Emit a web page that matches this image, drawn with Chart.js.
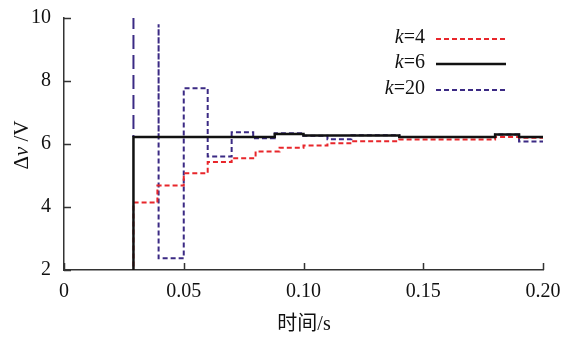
<!DOCTYPE html>
<html>
<head>
<meta charset="utf-8">
<script src="https://cdn.jsdelivr.net/npm/chart.js@4.4.1/dist/chart.umd.min.js"></script>
<style>
  html, body { margin: 0; padding: 0; background: #fff; }
  #contenedor { width: 563px; height: 338px; }
</style>
</head>
<body>
<div id="contenedor"><canvas id="grafico"></canvas></div>
<script>
// Instantes de cambio (s) y nivel de Δv (V) para cada k; la curva es escalonada
const tiempoK4 = [0, 0.029, 0.039, 0.05, 0.06, 0.07, 0.08, 0.09, 0.10, 0.11, 0.12, 0.14, 0.18, 0.19, 0.20];
const valorK4  = [0, 4.14, 4.68, 5.07, 5.43, 5.55, 5.76, 5.88, 5.95, 6.02, 6.09, 6.14, 6.22, 6.20, 6.20];

const tiempoK6 = [0, 0.029, 0.088, 0.10, 0.14, 0.18, 0.19, 0.20];
const valorK6  = [0, 6.22, 6.32, 6.27, 6.22, 6.30, 6.22, 6.22];

const tiempoK20 = [0.029, 0.029, 0.0395, 0.0395, 0.05, 0.06, 0.07, 0.079, 0.088, 0.099, 0.11, 0.12, 0.14, 0.18, 0.19, 0.20];
const valorK20  = [12, 6.22, 9.8, 2.37, 7.77, 5.60, 6.37, 6.18, 6.34, 6.26, 6.15, 6.28, 6.22, 6.30, 6.08, 6.08];

const ticksX = [0, 0.05, 0.10, 0.15, 0.20];
const ticksY = [2, 4, 6, 8, 10];

const leyenda = [
    { k: "4", color: "#e8262b", dash: [5, 3], ancho: 2 },
    { k: "6", color: "#111111", dash: [], ancho: 2.5 },
    { k: "20", color: "#3b2a84", dash: [5, 3], ancho: 2 }
];

const FUENTE = '"Liberation Serif", "Times New Roman", serif';
const TINTA = "#111";

function puntos(tiempos, valores) {
    return tiempos.map((t, i) => ({ x: t, y: valores[i] }));
}

// Marcas de los ejes hacia dentro del área de trazado
const marcasInternas = {
    id: "marcasInternas",
    afterDraw(chart) {
        const { ctx, chartArea, scales } = chart;
        ctx.save();
        ctx.strokeStyle = "#333";
        ctx.lineWidth = 1.5;
        ctx.beginPath();
        ticksX.forEach(v => {
            const px = Math.round(scales.x.getPixelForValue(v)) + 0.5;
            ctx.moveTo(px, chartArea.bottom);
            ctx.lineTo(px, chartArea.bottom - 7);
        });
        ticksY.forEach(v => {
            const py = Math.round(scales.y.getPixelForValue(v)) + 0.5;
            ctx.moveTo(chartArea.left, py);
            ctx.lineTo(chartArea.left + 7, py);
        });
        ctx.stroke();
        ctx.restore();
    }
};

// Títulos de ejes y leyenda (con la k y la v en cursiva)
const textos = {
    id: "textos",
    afterDraw(chart) {
        const { ctx } = chart;
        ctx.save();
        ctx.fillStyle = TINTA;
        ctx.textBaseline = "middle";

        // leyenda
        const filas = [38, 63, 89];
        leyenda.forEach((l, i) => {
            const y = filas[i];
            ctx.font = "20px " + FUENTE;
            ctx.textAlign = "right";
            const resto = "=" + l.k;
            ctx.fillText(resto, 425, y);
            const w = ctx.measureText(resto).width;
            ctx.font = "italic 20px " + FUENTE;
            ctx.fillText("k", 425 - w, y);

            ctx.beginPath();
            ctx.strokeStyle = l.color;
            ctx.lineWidth = l.ancho;
            ctx.setLineDash(l.dash);
            ctx.moveTo(436, y + 1);
            ctx.lineTo(506, y + 1);
            ctx.stroke();
            ctx.setLineDash([]);
        });

        // título eje x
        ctx.font = "20px " + FUENTE + ', "Noto Sans CJK SC"';
        ctx.textAlign = "center";
        ctx.fillText("时间/s", 304, 325);

        // título eje y
        ctx.translate(22, 145);
        ctx.rotate(-Math.PI / 2);
        const partes = [
            { t: "Δ", f: "21px " + FUENTE },
            { t: "v", f: "italic 21px " + FUENTE },
            { t: " /V", f: "21px " + FUENTE }
        ];
        let total = 0;
        partes.forEach(p => { ctx.font = p.f; total += ctx.measureText(p.t).width; });
        let x = -total / 2;
        ctx.textAlign = "left";
        partes.forEach(p => {
            ctx.font = p.f;
            ctx.fillText(p.t, x, 0);
            x += ctx.measureText(p.t).width;
        });
        ctx.restore();
    }
};

const ctx = document.getElementById("grafico").getContext("2d");

new Chart(ctx, {
    type: "line",
    data: {
        datasets: [
            {
                label: "k=6",
                data: puntos(tiempoK6, valorK6),
                borderColor: leyenda[1].color,
                borderWidth: 2.5,
                stepped: "before",
                pointRadius: 0,
                order: 0
            },
            {
                label: "k=4",
                data: puntos(tiempoK4, valorK4),
                borderColor: leyenda[0].color,
                borderWidth: 2,
                borderDash: [5, 3],
                stepped: "before",
                pointRadius: 0,
                order: 1
            },
            {
                label: "k=20",
                data: puntos(tiempoK20, valorK20),
                borderColor: leyenda[2].color,
                borderWidth: 2,
                borderDash: [5, 3],
                stepped: "before",
                pointRadius: 0,
                order: 2,
                segment: {
                    borderDash: c => c.p0DataIndex === 0 ? [14, 6] : undefined
                }
            }
        ]
    },
    options: {
        responsive: true,
        maintainAspectRatio: false,
        animation: false,
        events: [],
        layout: { padding: { top: 18, right: 20, left: 0, bottom: 0 } },
        plugins: {
            legend: { display: false },
            tooltip: { enabled: false }
        },
        scales: {
            x: {
                type: "linear",
                min: 0,
                max: 0.2,
                afterFit: s => { s.height = 68; },
                afterBuildTicks: s => { s.ticks = ticksX.map(v => ({ value: v })); },
                grid: { display: false },
                border: { display: true, color: "#333", width: 1.5 },
                ticks: {
                    padding: 2,
                    color: TINTA,
                    font: { family: FUENTE, size: 20 },
                    maxRotation: 0,
                    callback: v => v === 0 ? "0" : v.toFixed(2)
                }
            },
            y: {
                min: 2,
                max: 10,
                afterFit: s => { s.width = 64; },
                afterBuildTicks: s => { s.ticks = ticksY.map(v => ({ value: v })); },
                grid: { display: false },
                border: { display: true, color: "#333", width: 1.5 },
                ticks: {
                    padding: 5,
                    color: TINTA,
                    font: { family: FUENTE, size: 20 },
                    callback: v => String(v)
                }
            }
        }
    },
    plugins: [marcasInternas, textos]
});
</script>
</body>
</html>
